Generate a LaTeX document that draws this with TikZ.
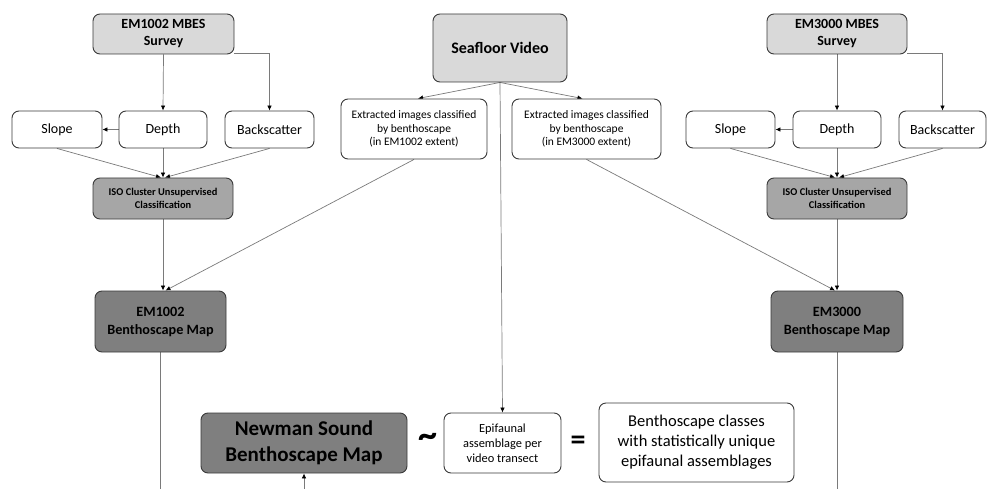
\documentclass[tikz,border=0pt]{standalone}
\usepackage{fontspec}
\setmainfont{Carlito}
\usetikzlibrary{arrows.meta,backgrounds,calc}
\definecolor{boxlight}{HTML}{D9D9D9}
\definecolor{boxmid}{HTML}{A6A6A6}
\definecolor{boxdark}{HTML}{7F7F7F}
\definecolor{edgecol}{HTML}{3A3A3A}
\definecolor{linecol}{HTML}{7A7A7A}
\begin{document}
\begin{tikzpicture}[x=1pt,y=-1pt,
  box/.style={draw=edgecol,line width=0.9pt,rounded corners=7pt,inner sep=0pt,align=center,text=black},
  white box/.style={box,fill=white},
  light box/.style={box,fill=boxlight,font=\bfseries\fontsize{14}{17}\selectfont},
  mid box/.style={box,fill=boxmid,font=\bfseries\fontsize{10.4}{13.5}\selectfont},
  dark box/.style={box,fill=boxdark,font=\bfseries\fontsize{14.2}{18}\selectfont},
  small box/.style={white box,minimum height=37pt,font=\fontsize{14}{16}\selectfont},
  conn/.style={draw=linecol,line width=0.7pt},
  arr/.style={conn,-{Latex[length=5pt,width=4.5pt,fill=black,color=black]}}
]
\useasboundingbox (0,0) rectangle (987,489);

% left column
\node[light box,minimum width=141pt,minimum height=40pt] (survL) at (163.5,34) {EM1002 MBES\\Survey};
\node[small box,minimum width=90pt] (slopeL) at (57,129.5) {Slope};
\node[small box,minimum width=88pt] (depthL) at (163,129.5) {Depth};
\node[small box,minimum width=89pt] (bkL) at (269.5,129.5) {Backscatter};
\node[mid box,minimum width=140pt,minimum height=41pt] (isoL) at (163,198.5) {ISO Cluster Unsupervised\\Classification};
\node[dark box,minimum width=131pt,minimum height=61pt] (mapL) at (160.5,321.5) {EM1002\\Benthoscape Map};

% centre
\node[light box,minimum width=134pt,minimum height=68pt,font=\bfseries\fontsize{16}{18}\selectfont] (sv) at (500,48) {Seafloor Video};
\node[white box,minimum width=146pt,minimum height=60pt,font=\fontsize{11.5}{13.5}\selectfont] (extL) at (414,129) {Extracted images classified\\by benthoscape\\(in EM1002 extent)};
\node[white box,minimum width=149pt,minimum height=60pt,font=\fontsize{11.5}{13.5}\selectfont] (extR) at (586.5,129) {Extracted images classified\\by benthoscape\\(in EM3000 extent)};

% right column
\node[light box,minimum width=140pt,minimum height=40pt] (survR) at (837,34) {EM3000 MBES\\Survey};
\node[small box,minimum width=89pt] (slopeR) at (730.5,129.5) {Slope};
\node[small box,minimum width=88pt] (depthR) at (837,129.5) {Depth};
\node[small box,minimum width=87pt] (bkR) at (942.5,129.5) {Backscatter};
\node[mid box,minimum width=140pt,minimum height=41pt] (isoR) at (837,198.5) {ISO Cluster Unsupervised\\Classification};
\node[dark box,minimum width=132pt,minimum height=61pt] (mapR) at (837,321.5) {EM3000\\Benthoscape Map};

% bottom row
\node[dark box,minimum width=206pt,minimum height=60pt,font=\bfseries\fontsize{21}{25.5}\selectfont] (ns) at (304,443) {Newman Sound\\Benthoscape Map};
\node[font=\bfseries\fontsize{38}{38}\selectfont] (tilde) at (428,440) {\char"007E};
\node[white box,minimum width=117pt,minimum height=60pt,font=\fontsize{12.4}{15}\selectfont] (epi) at (502.5,443) {Epifaunal\\assemblage per\\video transect};
\node[font=\bfseries\fontsize{30}{30}\selectfont] (eq) at (578,443) {=};
\node[white box,minimum width=195pt,minimum height=79pt,font=\fontsize{16.5}{20}\selectfont] (bc) at (696.5,442.5) {Benthoscape classes\\with statistically unique\\epifaunal assemblages};

\coordinate (bot) at (0,489);
\coordinate (nsin) at (304,489);

\begin{scope}[on background layer]
% left
\draw[arr] (survL.south) -- (depthL.north);
\draw[arr] ([yshift=1.5pt]survL.south east) -| (bkL.north);
\draw[arr] (depthL.west) -- (slopeL.east);
\draw[arr] (slopeL.south) -- ([xshift=-2pt]isoL.north);
\draw[arr] (depthL.south) -- (isoL.north);
\draw[arr] (bkL.south) -- ([xshift=2pt]isoL.north);
\draw[arr] (isoL.south) -- (isoL.south |- mapL.north);
\draw[arr] (extL.south) -- ([xshift=5pt]mapL.north);
\draw[conn] (mapL.south) -- (mapL.south |- bot);
% centre
\draw[arr] (sv.south) -- ([xshift=4pt]extL.north);
\draw[arr] (sv.south) -- ([xshift=-4pt]extR.north);
\draw[arr] (sv.south) -- (epi.north);
\draw[arr] (extR.south) -- ([xshift=-2pt]mapR.north);
% right
\draw[arr] (survR.south) -- (depthR.north);
\draw[arr] ([yshift=1.5pt]survR.south east) -| (bkR.north);
\draw[arr] (depthR.west) -- (slopeR.east);
\draw[arr] (slopeR.south) -- ([xshift=-2pt]isoR.north);
\draw[arr] (depthR.south) -- (isoR.north);
\draw[arr] (bkR.south) -- ([xshift=2pt]isoR.north);
\draw[arr] (isoR.south) -- (mapR.north);
\draw[conn] (mapR.south) -- (mapR.south |- bot);
% bottom
\draw[arr] (nsin) -- (ns.south);
\end{scope}
\end{tikzpicture}
\end{document}
